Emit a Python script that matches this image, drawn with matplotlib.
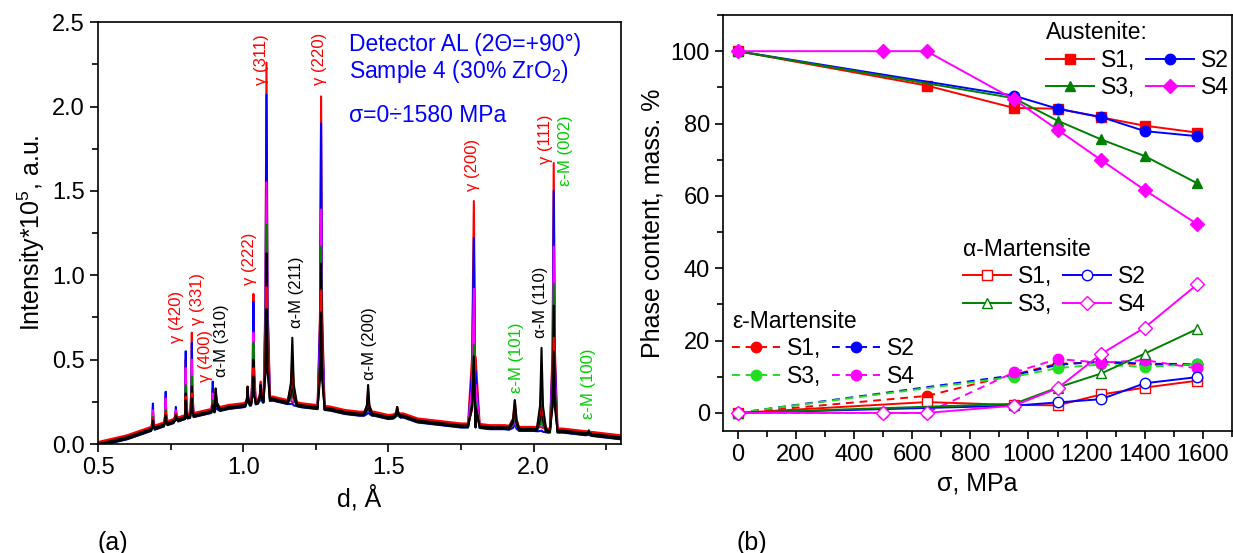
import numpy as np
import matplotlib.pyplot as plt
from matplotlib.ticker import MultipleLocator

plt.rcParams['font.family'] = ['Liberation Sans', 'DejaVu Sans']
plt.rcParams['mathtext.fontset'] = 'custom'
plt.rcParams['mathtext.rm'] = 'Liberation Sans'
plt.rcParams['mathtext.it'] = 'Liberation Sans:italic'

# ---- (a) diffraction patterns: background vertices + peak table ----
d_bg = [0.50, 0.55, 0.60, 0.65, 0.70, 0.75, 0.80, 0.85, 0.90, 0.95, 1.00, 1.05,
        1.10, 1.15, 1.20, 1.25, 1.30, 1.35, 1.40, 1.45, 1.50, 1.55, 1.60, 1.65,
        1.70, 1.75, 1.80, 1.85, 1.90, 1.95, 2.00, 2.05, 2.10, 2.15, 2.20, 2.25, 2.30]
i_bg = [0.00, 0.02, 0.04, 0.07, 0.10, 0.13, 0.16, 0.18, 0.20, 0.22, 0.23, 0.25,
        0.27, 0.25, 0.23, 0.22, 0.21, 0.19, 0.18, 0.18, 0.16, 0.17, 0.14, 0.13,
        0.12, 0.11, 0.11, 0.10, 0.10, 0.09, 0.09, 0.08, 0.08, 0.07, 0.06, 0.05, 0.04]

peak_d = [0.689, 0.733, 0.768, 0.802, 0.823, 0.895, 0.905, 1.015, 1.035, 1.060,
          1.080, 1.169, 1.268, 1.430, 1.530, 1.794, 1.935, 2.027, 2.069, 2.190]
peak_w = [0.006, 0.006, 0.008, 0.006, 0.006, 0.006, 0.015, 0.008, 0.008, 0.010,
          0.012, 0.016, 0.012, 0.014, 0.012, 0.020, 0.020, 0.016, 0.013, 0.010]

curve_colors = ['red', 'blue', 'magenta', 'green', 'black', 'red', 'black']
bg_shift = [0.012, -0.012, 0.0, -0.008, -0.01, 0.008, 0.0]
h_red_a = [0.22, 0.28, 0.20, 0.50, 0.66, 0.33, 0.24, 0.30, 0.89, 0.35,
           2.26, 0.25, 2.06, 0.22, 0.20, 1.44, 0.12, 0.10, 1.665, 0.06]
h_blue = [0.24, 0.31, 0.22, 0.55, 0.60, 0.37, 0.23, 0.32, 0.84, 0.30,
          2.07, 0.24, 1.90, 0.20, 0.19, 1.22, 0.12, 0.08, 1.50, 0.06]
h_magenta = [0.20, 0.27, 0.20, 0.45, 0.50, 0.30, 0.25, 0.30, 0.66, 0.32,
             1.55, 0.30, 1.39, 0.22, 0.20, 0.92, 0.14, 0.15, 1.17, 0.06]
h_green = [0.16, 0.20, 0.18, 0.35, 0.40, 0.26, 0.27, 0.30, 0.60, 0.33,
           1.30, 0.36, 1.17, 0.26, 0.20, 0.59, 0.18, 0.20, 0.95, 0.07]
h_black_a = [0.15, 0.18, 0.17, 0.30, 0.34, 0.24, 0.29, 0.32, 0.50, 0.35,
             1.13, 0.42, 1.07, 0.28, 0.21, 0.52, 0.22, 0.32, 0.82, 0.08]
h_red_b = [0.15, 0.19, 0.18, 0.28, 0.30, 0.24, 0.31, 0.34, 0.45, 0.37,
           0.93, 0.52, 0.91, 0.31, 0.22, 0.41, 0.26, 0.41, 0.63, 0.08]
h_black_b = [0.14, 0.17, 0.17, 0.26, 0.27, 0.23, 0.33, 0.34, 0.40, 0.35,
             0.80, 0.63, 0.78, 0.35, 0.22, 0.46, 0.26, 0.57, 0.55, 0.08]
heights = [h_red_a, h_blue, h_magenta, h_green, h_black_a, h_red_b, h_black_b]

# ---- (b) phase content ----
sig_s1 = [0, 650, 950, 1100, 1250, 1400, 1580]
sig_s2 = [0, 950, 1100, 1250, 1400, 1580]
sig_s3 = [0, 950, 1100, 1250, 1400, 1580]
sig_s4 = [0, 500, 650, 950, 1100, 1250, 1400, 1580]

aus_s1 = [100, 90.5, 84.3, 84.1, 81.7, 79.4, 77.5]
aus_s2 = [100, 87.7, 84.1, 81.8, 77.9, 76.5]
aus_s3 = [100, 87.0, 80.8, 75.6, 71.0, 63.5]
aus_s4 = [100, 100, 100, 86.7, 78.3, 69.9, 61.6, 52.2]

alpha_s1 = [0, 3.0, 2.2, 2.1, 5.1, 7.0, 8.9]
alpha_s2 = [0, 2.0, 2.9, 3.8, 8.2, 9.9]
alpha_s3 = [0, 2.5, 7.0, 10.9, 16.4, 23.2]
alpha_s4 = [0, 0, 0, 2.0, 6.8, 16.3, 23.6, 35.5]

eps_s1 = [0, 4.7, 10.6, 13.6, 14.0, 13.4, 13.2]
eps_s2 = [0, 10.4, 13.3, 14.2, 13.6, 13.5]
eps_s3 = [0, 10.0, 12.4, 13.4, 12.7, 13.5]
eps_s4 = [0, 0, 0, 11.2, 14.9, 13.9, 14.6, 12.3]

fig = plt.figure(figsize=(12.33, 5.53), dpi=100)
ax1 = fig.add_axes([0.0795, 0.197, 0.424, 0.763])
ax2 = fig.add_axes([0.5864, 0.2206, 0.4128, 0.7523])

# build each pattern as vertices: background points + peak outline points
for col, hs, sh in zip(curve_colors, heights, bg_shift):
    xs = list(d_bg)
    ys = [v + sh for v in i_bg]
    for pd_, pw, ph in zip(peak_d, peak_w, hs):
        b0 = np.interp(pd_ - pw, d_bg, i_bg) + sh
        b1 = np.interp(pd_ + pw, d_bg, i_bg) + sh
        xs += [pd_ - pw, pd_ - 0.3 * pw, pd_, pd_ + 0.3 * pw, pd_ + pw]
        ys += [b0, b0 + 0.3 * (ph - b0), ph, b1 + 0.3 * (ph - b1), b1]
    order = np.argsort(xs)
    ax1.plot(np.array(xs)[order], np.array(ys)[order], color=col, lw=1.5)

ax1.set_xlim(0.5, 2.3)
ax1.set_ylim(0, 2.5)
ax1.xaxis.set_major_locator(MultipleLocator(0.5))
ax1.xaxis.set_minor_locator(MultipleLocator(0.25))
ax1.yaxis.set_major_locator(MultipleLocator(0.5))
ax1.yaxis.set_minor_locator(MultipleLocator(0.25))
ax1.tick_params(which='both', direction='out', labelsize=17, width=1.2)
ax1.tick_params(which='major', length=6)
ax1.tick_params(which='minor', length=4)
for s in ax1.spines.values():
    s.set_linewidth(1.2)
ax1.set_xlabel('d, Å', fontsize=18)
ax1.set_ylabel('Intensity*10$^5$, a.u.', fontsize=18)

red_lbl = [('γ (420)', 0.771, 0.60), ('γ (331)', 0.843, 0.705), ('γ (400)', 0.871, 0.37),
           ('γ (222)', 1.022, 0.94), ('γ (311)', 1.063, 2.13), ('γ (220)', 1.262, 2.13),
           ('γ (200)', 1.788, 1.50), ('γ (111)', 2.040, 1.66)]
black_lbl = [('α-M (310)', 0.926, 0.40), ('α-M (211)', 1.183, 0.69),
             ('α-M (200)', 1.434, 0.38), ('α-M (110)', 2.025, 0.63)]
green_lbl = [('ε-M (101)', 1.940, 0.30), ('ε-M (002)', 2.110, 1.53),
             ('ε-M (100)', 2.190, 0.15)]
for lst, c in [(red_lbl, 'red'), (black_lbl, 'black'), (green_lbl, '#00cc00')]:
    for t, x, y in lst:
        ax1.text(x, y, t, rotation=90, ha='center', va='bottom', color=c, fontsize=12)

ax1.text(0.48, 0.975, 'Detector AL (2Θ=+90°)\nSample 4 (30% ZrO$_2$)', transform=ax1.transAxes,
         color='blue', fontsize=16.5, va='top', linespacing=1.1)
ax1.text(0.48, 0.805, 'σ=0÷1580 MPa', transform=ax1.transAxes, color='blue', fontsize=16.5, va='top')

# right panel
red, blue, dgreen, mag, lgreen = 'red', 'blue', 'green', 'magenta', '#22dd22'
ms = 7.5
a1, = ax2.plot(sig_s1, aus_s1, '-s', color=red, ms=ms-1, lw=1.4)
a2, = ax2.plot(sig_s2, aus_s2, '-o', color=blue, ms=ms, lw=1.4)
a3, = ax2.plot(sig_s3, aus_s3, '-^', color=dgreen, ms=ms, lw=1.4)
a4, = ax2.plot(sig_s4, aus_s4, '-D', color=mag, ms=ms-0.5, lw=1.4)

e1, = ax2.plot(sig_s1, eps_s1, '--o', color=red, ms=ms, lw=1.4, dashes=(4, 3))
e2, = ax2.plot(sig_s2, eps_s2, '--o', color=blue, ms=ms, lw=1.4, dashes=(4, 3))
e3, = ax2.plot(sig_s3, eps_s3, '--o', color=lgreen, ms=ms, lw=1.4, dashes=(4, 3))
e4, = ax2.plot(sig_s4, eps_s4, '--o', color=mag, ms=ms, lw=1.4, dashes=(4, 3))

m1, = ax2.plot(sig_s1, alpha_s1, '-s', color=red, mfc='white', ms=ms-1, lw=1.4)
m2, = ax2.plot(sig_s2, alpha_s2, '-o', color=blue, mfc='white', ms=ms, lw=1.4)
m3, = ax2.plot(sig_s3, alpha_s3, '-^', color=dgreen, mfc='white', ms=ms, lw=1.4)
m4, = ax2.plot(sig_s4, alpha_s4, '-D', color=mag, mfc='white', ms=ms-0.5, lw=1.4)

ax2.set_xlim(-50, 1700)
ax2.set_ylim(-5, 110)
ax2.xaxis.set_major_locator(MultipleLocator(200))
ax2.xaxis.set_minor_locator(MultipleLocator(100))
ax2.yaxis.set_minor_locator(MultipleLocator(10))
ax2.set_yticks([0, 20, 40, 60, 80, 100])
ax2.tick_params(which='both', direction='out', labelsize=17, width=1.2)
ax2.tick_params(which='major', length=6)
ax2.tick_params(which='minor', length=4)
for s in ax2.spines.values():
    s.set_linewidth(1.2)
ax2.set_xlabel('σ, MPa', fontsize=18)
ax2.set_ylabel('Phase content, mass. %', fontsize=18)

leg_kw = dict(ncol=2, frameon=False, fontsize=16.5, title_fontsize=16.5, handlelength=2.1,
              handletextpad=0.3, columnspacing=0.45, labelspacing=0.2, borderpad=0,
              borderaxespad=0, alignment='left', loc='upper left')
L1 = ax2.legend([a1, a3, a2, a4], ['S1,', 'S3,', 'S2', 'S4'], title='Austenite:',
                bbox_to_anchor=(0.635, 0.985), **leg_kw)
ax2.add_artist(L1)
L2 = ax2.legend([m1, m3, m2, m4], ['S1,', 'S3,', 'S2', 'S4'], title='α-Martensite',
                bbox_to_anchor=(0.472, 0.465), **leg_kw)
ax2.add_artist(L2)
L3 = ax2.legend([e1, e3, e2, e4], ['S1,', 'S3,', 'S2', 'S4'], title='ε-Martensite',
                bbox_to_anchor=(0.018, 0.292), **leg_kw)

fig.text(0.079, 0.005, '(a)', fontsize=18)
fig.text(0.597, 0.005, '(b)', fontsize=18)

fig.savefig('out.png', dpi=100)
